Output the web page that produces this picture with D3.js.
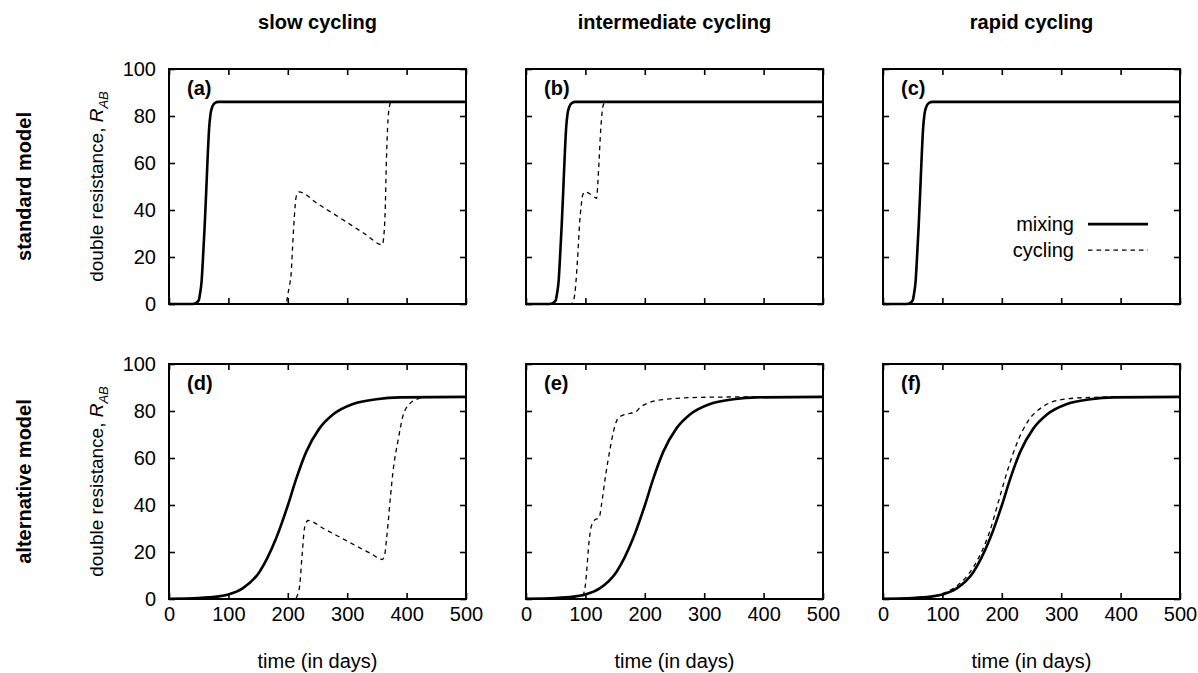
<!DOCTYPE html>
<html>
<head>
<meta charset="utf-8">
<script src="https://cdn.jsdelivr.net/npm/d3@7"></script>
<style>
  body { margin: 0; background: #fff; }
  svg { font-family: "Liberation Sans", Arial, sans-serif; }
</style>
</head>
<body>
<div id="chart"></div>
<script>
// column / row titles
var columns = ["slow cycling", "intermediate cycling", "rapid cycling"];
var rows = ["standard model", "alternative model"];
var panelTags = ["(a)", "(b)", "(c)", "(d)", "(e)", "(f)"];
var xTicks = [0, 100, 200, 300, 400, 500];
var yTicks = [0, 20, 40, 60, 80, 100];

// [time in days, R_AB]
var stdMixing = [[0,0],[40,0],[45,0.3],[50,1.5],[52,4],[55,10],[57,18.5],[60,33],[62.5,47],[65,62],[67.6,75],[70,81],[73,84],[77,85.5],[83,86],[500,86]];
var stdSlowCycling = [[0,0],[195,0],[198,1],[200,4],[203,8],[205.6,12.8],[208,24],[211,37],[214,45.5],[218.5,47.7],[250,42.7],[290,36.3],[330,29.8],[359,25.2],[362,30],[364,40],[366,61],[368,75],[371,84],[374,86],[500,86]];
var stdIntCycling = [[0,0],[76,0],[78,0.5],[82,4],[86.6,18.5],[90.6,35.6],[93,42],[95,46],[99,47.7],[110,46.5],[119,45],[120.6,50],[123,61],[126,75],[130,84.6],[134,86],[500,86]];
var stdRapidCycling = [[0,0],[40,0],[45,0.3],[50,1.5],[52,4],[55,10],[57,18.5],[60,33],[62.5,47],[65,62],[67.6,75],[70,81],[73,84],[77,85.5],[83,86],[500,86]];

var altMixing = [[0,0.1],[50,0.4],[80,1],[100,1.9],[124,4.5],[152,11.4],[180,25.6],[200,39.8],[214,51],[231,62.6],[253,72.5],[276,78.5],[310,83],[349,85],[389,85.8],[500,86]];
var altSlowCycling = [[0,0],[212,0],[216,1.5],[220,5.7],[224,18.5],[228,30],[231,32.5],[234,33.4],[260,30],[300,24.6],[340,19.3],[359,16.8],[363,18.5],[366,25],[369,32.7],[373,44],[377,54],[386,68],[394,78],[405,83],[420,85.3],[434,86],[500,86]];
var altIntCycling = [[0,0],[95,0],[97,2],[100,6],[102,11.4],[106,24],[110,31],[116,33.7],[123,34.5],[127,40],[134,52.6],[141.6,64],[147,71],[153,76],[161,78],[175,79],[184,79.5],[192,81.5],[207,83.5],[235,85],[292,85.8],[376,86],[500,86]];
var altRapidCycling = [[0,0.1],[50,0.4],[80,1.1],[100,2.3],[124,5.5],[152,13.5],[180,29],[195,42],[210,55],[225,66],[245,76],[270,82],[300,84.8],[340,85.7],[400,86],[500,86]];

var panels = [
  {row: 0, col: 0, mixing: stdMixing, cycling: stdSlowCycling},
  {row: 0, col: 1, mixing: stdMixing, cycling: stdIntCycling},
  {row: 0, col: 2, mixing: stdMixing, cycling: stdRapidCycling},
  {row: 1, col: 0, mixing: altMixing, cycling: altSlowCycling},
  {row: 1, col: 1, mixing: altMixing, cycling: altIntCycling},
  {row: 1, col: 2, mixing: altMixing, cycling: altRapidCycling}
];

var width = 1198, height = 673;
var colX = [169, 526, 883], rowY = [69, 364];
var pw = 297, ph = 235;
var fs = 20;

var svg = d3.select("#chart").append("svg")
    .attr("width", width)
    .attr("height", height);

var x = d3.scaleLinear().domain([0, 500]).range([0, pw]);
var y = d3.scaleLinear().domain([0, 100]).range([ph, 0]);

var line = d3.line()
    .x(function(d) { return x(d[0]); })
    .y(function(d) { return y(d[1]); })
    .curve(d3.curveMonotoneX);

// column titles
svg.selectAll("text.coltitle")
    .data(columns)
  .enter().append("text")
    .attr("class", "coltitle")
    .attr("x", function(d, i) { return colX[i] + pw / 2; })
    .attr("y", 29)
    .attr("text-anchor", "middle")
    .style("font-weight", "bold")
    .style("font-size", fs + "px")
    .text(function(d) { return d; });

// row titles
svg.selectAll("text.rowtitle")
    .data(rows)
  .enter().append("text")
    .attr("class", "rowtitle")
    .attr("transform", function(d, i) { return "translate(24," + (rowY[i] + ph / 2) + ") rotate(-90)"; })
    .attr("dy", "0.35em")
    .attr("text-anchor", "middle")
    .style("font-weight", "bold")
    .style("font-size", fs + "px")
    .text(function(d) { return d; });

panels.forEach(function(p, i) {
  var g = svg.append("g")
      .attr("transform", "translate(" + colX[p.col] + "," + rowY[p.row] + ")");

  g.append("path")
      .datum(p.cycling)
      .attr("fill", "none")
      .attr("stroke", "#000")
      .attr("stroke-width", 1.3)
      .attr("stroke-dasharray", "4.5,4")
      .attr("d", line);

  g.append("path")
      .datum(p.mixing)
      .attr("fill", "none")
      .attr("stroke", "#000")
      .attr("stroke-width", 2.6)
      .attr("d", line);

  // mirrored inward ticks on all four sides, labels only on the outer edges
  var bottom = g.append("g")
      .attr("transform", "translate(0," + ph + ")")
      .call(d3.axisBottom(x).tickValues(xTicks).tickSize(-6).tickPadding(8)
        .tickFormat(p.row == 1 ? d3.format("d") : ""));
  var top = g.append("g")
      .call(d3.axisTop(x).tickValues(xTicks).tickSize(-6).tickFormat(""));
  var left = g.append("g")
      .call(d3.axisLeft(y).tickValues(yTicks).tickSize(-6).tickPadding(13)
        .tickFormat(p.col == 0 ? d3.format("d") : ""));
  var right = g.append("g")
      .attr("transform", "translate(" + pw + ",0)")
      .call(d3.axisRight(y).tickValues(yTicks).tickSize(-6).tickFormat(""));

  [bottom, top, left, right].forEach(function(a) {
    a.select(".domain").remove();
    a.selectAll("line").attr("stroke", "#000").attr("stroke-width", 1.6);
    a.selectAll("text")
        .attr("fill", "#000")
        .style("font-family", "'Liberation Sans', Arial, sans-serif")
        .style("font-size", fs + "px");
  });

  g.append("rect")
      .attr("width", pw)
      .attr("height", ph)
      .attr("fill", "none")
      .attr("stroke", "#000")
      .attr("stroke-width", 2);

  g.append("text")
      .attr("x", 18)
      .attr("y", 26)
      .style("font-weight", "bold")
      .style("font-size", fs + "px")
      .text(panelTags[i]);

  if (p.col == 0) {
    var yt = g.append("text")
        .attr("transform", "translate(-73," + ph / 2 + ") rotate(-90)")
        .attr("dy", "0.35em")
        .attr("text-anchor", "middle")
        .style("font-size", "19px");
    yt.append("tspan").text("double resistance, ");
    yt.append("tspan").style("font-style", "italic").text("R");
    yt.append("tspan").style("font-style", "italic").style("font-size", "13px")
        .attr("dy", 5).text("AB");
  }
  if (p.row == 1) {
    g.append("text")
        .attr("x", pw / 2)
        .attr("y", ph + 69)
        .attr("text-anchor", "middle")
        .style("font-size", fs + "px")
        .text("time (in days)");
  }
  if (p.row == 0 && p.col == 2) {
    // legend
    var legend = [{name: "mixing", w: 2.6, dash: null}, {name: "cycling", w: 1.3, dash: "4.5,4"}];
    var lg = g.selectAll("g.legend")
        .data(legend)
      .enter().append("g")
        .attr("class", "legend")
        .attr("transform", function(d, j) { return "translate(0," + (y(34) + j * 26) + ")"; });
    lg.append("text")
        .attr("x", 191)
        .attr("dy", "0.35em")
        .attr("text-anchor", "end")
        .style("font-size", fs + "px")
        .text(function(d) { return d.name; });
    lg.append("line")
        .attr("x1", 205)
        .attr("x2", 265)
        .attr("stroke", "#000")
        .attr("stroke-width", function(d) { return d.w; })
        .attr("stroke-dasharray", function(d) { return d.dash; });
  }
});
</script>
</body>
</html>
